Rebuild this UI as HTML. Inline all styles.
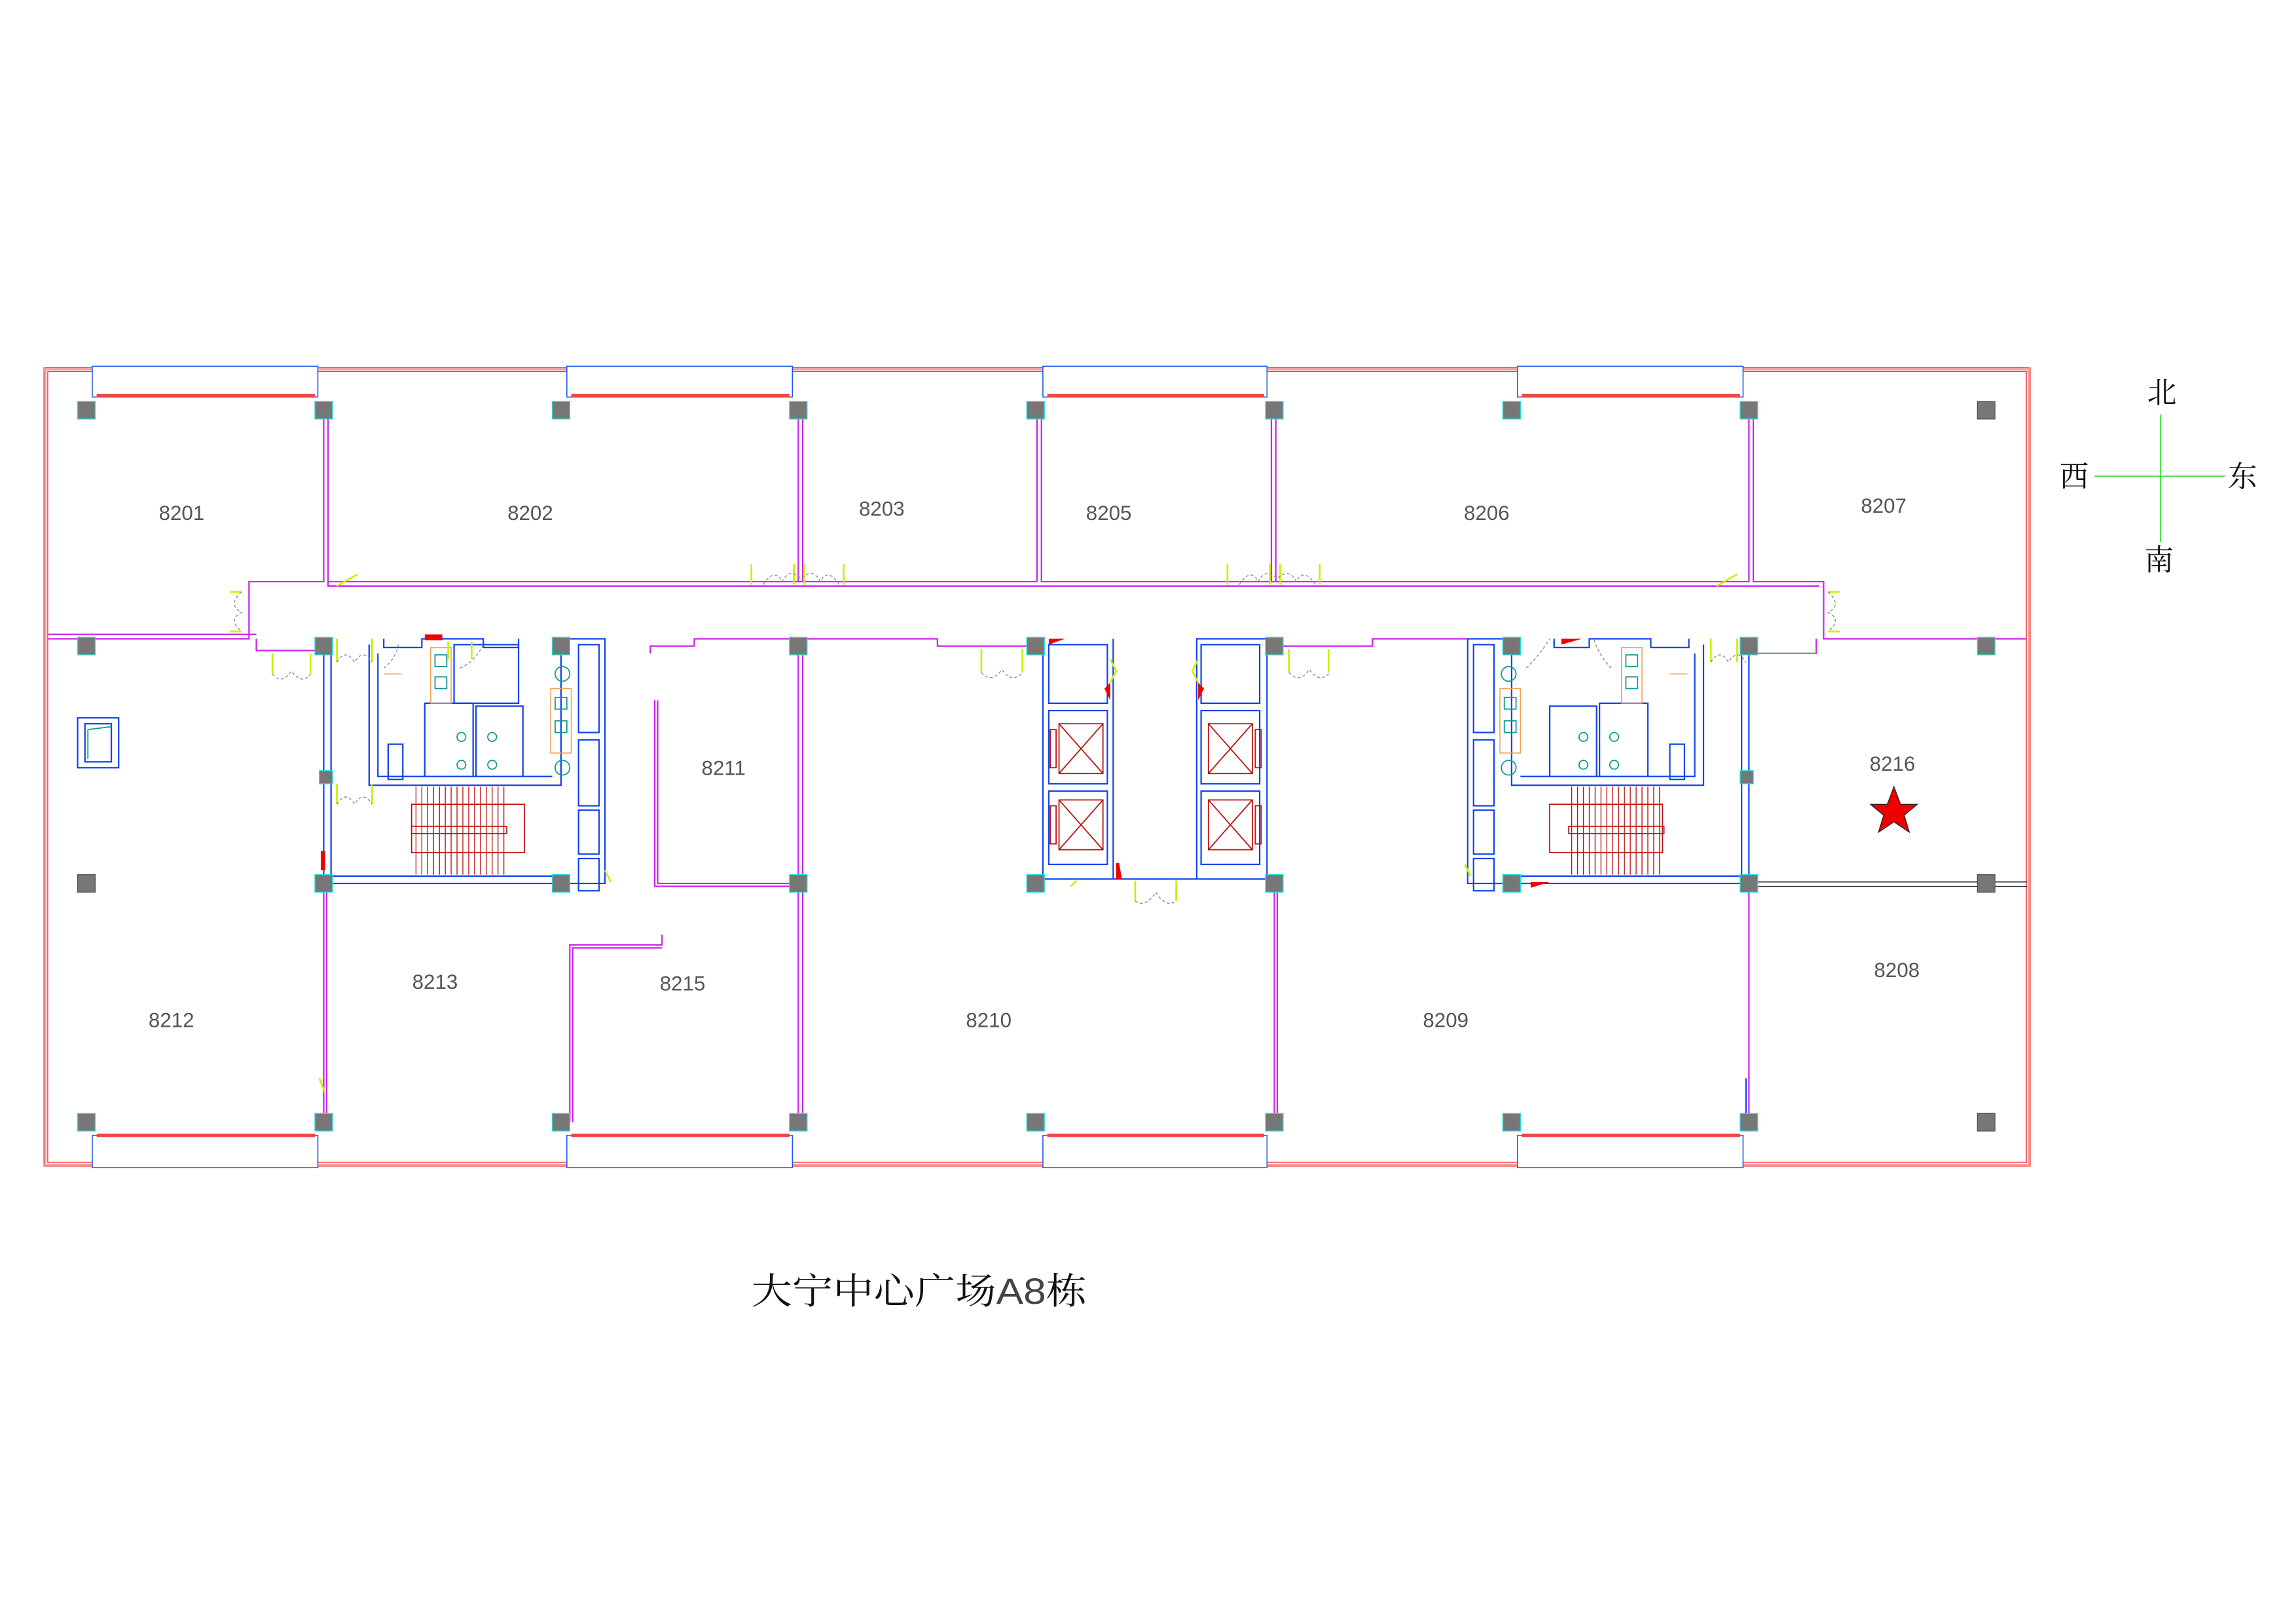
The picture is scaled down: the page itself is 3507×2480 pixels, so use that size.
<!DOCTYPE html>
<html><head><meta charset="utf-8"><style>
html,body{margin:0;padding:0;background:#fff;}
svg{display:block}
.t{font-family:"Liberation Sans",sans-serif;font-size:14px;fill:#555;}
</style></head><body>
<svg width="3507" height="2480" viewBox="0 0 1567.5 1108.5" preserveAspectRatio="none" xmlns="http://www.w3.org/2000/svg">
<rect width="1568" height="1109" fill="#fff"/>
<g fill="none" stroke-width="1.2" vector-effect="non-scaling-stroke">
<g stroke="#e33" stroke-width="0.6">
<rect x="30" y="251" width="1356" height="545"/>
<rect x="31.3" y="252.3" width="1353.4" height="542.4"/>
<rect x="32.6" y="253.6" width="1350.8" height="539.8"/>
</g>
<g stroke="#f5a0a0" stroke-width="1.5">
<line x1="30" y1="252" x2="1386" y2="252"/><line x1="30" y1="795" x2="1386" y2="795"/>
<line x1="31" y1="251" x2="31" y2="796"/><line x1="1385" y1="251" x2="1385" y2="796"/>
</g>
<g stroke="#2255ee" stroke-width="0.7" fill="#fff">
<rect x="63" y="250" width="154" height="21"/><rect x="387" y="250" width="154" height="21"/>
<rect x="712" y="250" width="153" height="21"/><rect x="1036" y="250" width="154" height="21"/>
<rect x="63" y="775" width="154" height="22"/><rect x="387" y="775" width="154" height="22"/>
<rect x="712" y="775" width="153" height="22"/><rect x="1036" y="775" width="154" height="22"/>
</g>
<g stroke="#ee4444" stroke-width="2.2">
<line x1="66" y1="270" x2="215" y2="270"/><line x1="390" y1="270" x2="539" y2="270"/>
<line x1="715" y1="270" x2="863" y2="270"/><line x1="1039" y1="270" x2="1188" y2="270"/>
<line x1="66" y1="775" x2="215" y2="775"/><line x1="390" y1="775" x2="539" y2="775"/>
<line x1="715" y1="775" x2="863" y2="775"/><line x1="1039" y1="775" x2="1188" y2="775"/>
</g>
<g stroke="#cc22ee" stroke-width="1">
<polyline points="221,285 221,397 170,397 170,436 33,436"/>
<polyline points="224,285 224,400 1242,400"/>
<line x1="224" y1="397" x2="545" y2="397"/>
<polyline points="545,285 545,397 708,397"/><polyline points="548,285 548,397"/>
<polyline points="708,285 708,397"/><polyline points="711,285 711,397 868,397"/>
<polyline points="868,285 868,397 1194,397 1194,285"/><polyline points="871,285 871,397"/>
<polyline points="1197,285 1197,397 1245,397 1245,436 1383,436"/>
<polyline points="33,433 175,433"/>
<polyline points="175,436 175,444 221,444"/>
<polyline points="444,446 444,441 474,441 474,436 640,436 640,441 707,441"/>
<polyline points="870,441 937,441 937,436 1002,436"/>
<polyline points="1198,446 1240,446 1240,436"/>
<line x1="545" y1="441" x2="545" y2="766"/><line x1="548" y1="441" x2="548" y2="766"/>
<polyline points="447,478 447,605 545,605"/><polyline points="449,478 449,603 545,603"/>
<line x1="221" y1="608" x2="221" y2="766"/><line x1="223" y1="608" x2="223" y2="766"/>
<line x1="870" y1="608" x2="870" y2="766"/><line x1="872" y1="608" x2="872" y2="766"/>
<polyline points="389,766 389,645 452,645 452,638"/><polyline points="391,766 391,647 452,647"/>
<line x1="1194" y1="608" x2="1194" y2="760"/>
</g>
<line x1="1198" y1="446" x2="1240" y2="446" stroke="#22dd22" stroke-width="1"/>
<g stroke="#222" stroke-width="0.6"><line x1="1200" y1="602" x2="1384" y2="602"/><line x1="1200" y1="605" x2="1384" y2="605"/></g>
<g stroke="#1144ee" stroke-width="1">
<polyline points="221,436 221,603 413,603 413,436 383,436"/>
<polyline points="226,446 226,598 383,598"/>
<polyline points="252,440 252,536 383,536 383,436"/>
<polyline points="258,446 258,530 377,530"/>
<polyline points="262,436 262,442 288,442 288,436 330,436 330,442 354,442 354,436"/>
<rect x="310" y="440" width="44" height="40"/>
<rect x="395" y="440" width="14" height="60"/><rect x="395" y="505" width="14" height="45"/>
<rect x="395" y="553" width="14" height="30"/><rect x="395" y="586" width="14" height="22"/>
<rect x="265" y="508" width="10" height="24"/>
<polyline points="290,530 290,480 323,480 323,530"/><polyline points="325,530 325,482 357,482 357,530"/>
<polyline points="712,436 712,600 865,600 865,436 817,436 817,600"/>
<polyline points="760,436 760,600"/>
<rect x="716" y="485" width="40" height="50"/><rect x="716" y="540" width="40" height="50"/>
<rect x="820" y="485" width="40" height="50"/><rect x="820" y="540" width="40" height="50"/>
<rect x="716" y="440" width="40" height="40"/><rect x="820" y="440" width="40" height="40"/>
<polyline points="1194,436 1194,603 1002,603 1002,436 1032,436"/>
<polyline points="1189,446 1189,598 1032,598"/>
<polyline points="1163,440 1163,536 1032,536 1032,436"/>
<polyline points="1157,446 1157,530 1038,530"/>
<polyline points="1153,436 1153,442 1127,442 1127,436 1085,436 1085,442 1061,442 1061,436"/>
<rect x="1006" y="440" width="14" height="60"/><rect x="1006" y="505" width="14" height="45"/>
<rect x="1006" y="553" width="14" height="30"/><rect x="1006" y="586" width="14" height="22"/>
<rect x="1140" y="508" width="10" height="24"/>
<polyline points="1058,530 1058,482 1090,482 1090,530"/><polyline points="1092,530 1092,480 1125,480 1125,530"/>
<rect x="53" y="490" width="28" height="34"/><rect x="58" y="494" width="18" height="26"/>
<line x1="1192" y1="736" x2="1192" y2="760"/>
</g>
<g stroke="#bb1111" stroke-width="0.8">
<rect x="723" y="494" width="30" height="34"/><line x1="723" y1="494" x2="753" y2="528"/><line x1="753" y1="494" x2="723" y2="528"/>
<rect x="723" y="546" width="30" height="34"/><line x1="723" y1="546" x2="753" y2="580"/><line x1="753" y1="546" x2="723" y2="580"/>
<rect x="825" y="494" width="30" height="34"/><line x1="825" y1="494" x2="855" y2="528"/><line x1="855" y1="494" x2="825" y2="528"/>
<rect x="825" y="546" width="30" height="34"/><line x1="825" y1="546" x2="855" y2="580"/><line x1="855" y1="546" x2="825" y2="580"/>
<rect x="717" y="498" width="4" height="26"/><rect x="717" y="550" width="4" height="26"/>
<rect x="857" y="498" width="4" height="26"/><rect x="857" y="550" width="4" height="26"/>
<rect x="281" y="549" width="77" height="33"/>
<rect x="281" y="564" width="65" height="5"/>
<rect x="1058" y="549" width="77" height="33"/>
<rect x="1071" y="564" width="65" height="5"/>
</g>
<g stroke="#bb1111" stroke-width="0.6">
<path d="M284 537V597M288 537V597M292 537V597M296 537V597M300 537V597M304 537V597M308 537V597M312 537V597M316 537V597M320 537V597M324 537V597M328 537V597M332 537V597M336 537V597M340 537V597M344 537V597"/>
<path d="M1073 537V597M1077 537V597M1081 537V597M1085 537V597M1089 537V597M1093 537V597M1097 537V597M1101 537V597M1105 537V597M1109 537V597M1113 537V597M1117 537V597M1121 537V597M1125 537V597M1129 537V597M1133 537V597"/>
</g>
<g stroke="#f5a050" stroke-width="0.7">
<rect x="294" y="442" width="14" height="38"/><rect x="1107" y="442" width="14" height="38"/>
<rect x="376" y="470" width="14" height="44"/><rect x="1024" y="470" width="14" height="44"/>
<line x1="262" y1="460" x2="274" y2="460"/><line x1="1140" y1="460" x2="1152" y2="460"/>
</g>
<g stroke="#119999" stroke-width="0.8">
<rect x="297" y="447" width="8" height="8"/><rect x="297" y="462" width="8" height="8"/>
<rect x="379" y="476" width="8" height="8"/><rect x="379" y="492" width="8" height="8"/>
<circle cx="315" cy="503" r="3"/><circle cx="336" cy="503" r="3"/><circle cx="315" cy="522" r="3"/><circle cx="336" cy="522" r="3"/>
<circle cx="384" cy="460" r="5"/><circle cx="384" cy="524" r="5"/>
<rect x="1110" y="447" width="8" height="8"/><rect x="1110" y="462" width="8" height="8"/>
<rect x="1027" y="476" width="8" height="8"/><rect x="1027" y="492" width="8" height="8"/>
<circle cx="1081" cy="503" r="3"/><circle cx="1102" cy="503" r="3"/><circle cx="1081" cy="522" r="3"/><circle cx="1102" cy="522" r="3"/>
<circle cx="1030" cy="460" r="5"/><circle cx="1030" cy="524" r="5"/>
<line x1="60" y1="498" x2="76" y2="496"/><line x1="60" y1="498" x2="60" y2="518"/>
</g>
<g stroke="#ccee00" stroke-width="1.2">
<path d="M157 404h8M157 431h8M230 400l14-8M513 385v14M576 385v14M542 385v14M549 385v14M838 385v14M901 385v14M867 385v14M874 385v14M1172 400l14-8M1248 404h8M1248 431h8M186 446v14M212 446v14M230 436v16M254 436v16M230 535v14M254 535v14M670 443v16M698 443v16M880 443v16M907 443v16M1168 436v16M1186 436v16M758 450l4 8 -4 8M818 450l-4 8 4 8M775 601v14M803 601v14M735 601l-4 4M1000 590l4 8M413 594l4 8M218 736l4 10M306 438v12M322 438v12"/>
</g>
<g stroke="#888" stroke-width="0.6" stroke-dasharray="2,1.5">
<path d="M165 404q-10 9 0 14q-10 5 0 13M521 399q8-12 13-2q5-10 13-2q8-8 13 2q5-10 13 2M846 399q8-12 13-2q5-10 13-2q8-8 13 2q5-10 13 2M1248 404q10 9 0 14q10 5 0 13M186 460q6 8 13-2q7 10 13 2M230 452q6-10 12 0q6-10 12 0M230 549q6-10 12 0q6-10 12 0M670 459q7 8 14-2q7 10 14 2M880 459q7 8 14-2q7 10 14 2M1168 452q6-10 12 0q6-10 12 0M775 615q7 5 14-6q7 11 14 6M1042 456q10-10 16-20M1100 456q-8-8 -12-20M262 456q8-6 10-16M314 456q10-4 16-16"/>
</g>
<g fill="#ee0000" stroke="none">
<polygon points="290,433 302,433 302,437 290,437"/>
<polygon points="716,436 727,436 716,440"/>
<polygon points="1066,436 1080,436 1066,440"/>
<polygon points="219,581 222,581 222,594 219,594"/>
<polygon points="762,589 764,589 766,600 762,600"/>
<polygon points="1045,602 1058,602 1045,606"/>
<polygon points="754,470 758,466 758,478"/><polygon points="822,470 818,466 818,478"/>
</g>
</g>
<g fill="#777" stroke="#22dddd" stroke-width="0.6">
<rect x="53" y="274" width="12" height="12"/><rect x="215" y="274" width="12" height="12"/><rect x="377" y="274" width="12" height="12"/><rect x="539" y="274" width="12" height="12"/><rect x="701" y="274" width="12" height="12"/><rect x="864" y="274" width="12" height="12"/><rect x="1026" y="274" width="12" height="12"/><rect x="1188" y="274" width="12" height="12"/><rect x="1350" y="274" width="12" height="12" stroke="#555"/>
<rect x="53" y="435" width="12" height="12"/><rect x="215" y="435" width="12" height="12"/><rect x="377" y="435" width="12" height="12"/><rect x="539" y="435" width="12" height="12"/><rect x="701" y="435" width="12" height="12"/><rect x="864" y="435" width="12" height="12"/><rect x="1026" y="435" width="12" height="12"/><rect x="1188" y="435" width="12" height="12"/><rect x="1350" y="435" width="12" height="12"/>
<rect x="53" y="597" width="12" height="12" stroke="#555"/><rect x="215" y="597" width="12" height="12"/><rect x="377" y="597" width="12" height="12"/><rect x="539" y="597" width="12" height="12"/><rect x="701" y="597" width="12" height="12"/><rect x="864" y="597" width="12" height="12"/><rect x="1026" y="597" width="12" height="12"/><rect x="1188" y="597" width="12" height="12"/><rect x="1350" y="597" width="12" height="12" stroke="#555"/>
<rect x="53" y="760" width="12" height="12"/><rect x="215" y="760" width="12" height="12"/><rect x="377" y="760" width="12" height="12"/><rect x="539" y="760" width="12" height="12"/><rect x="701" y="760" width="12" height="12"/><rect x="864" y="760" width="12" height="12"/><rect x="1026" y="760" width="12" height="12"/><rect x="1188" y="760" width="12" height="12"/><rect x="1350" y="760" width="12" height="12" stroke="#555"/>
<rect x="218" y="526" width="9" height="9"/><rect x="1188" y="526" width="9" height="9"/>
</g>
<g class="t" text-anchor="middle">
<text x="124" y="355">8201</text><text x="362" y="355">8202</text><text x="602" y="352">8203</text>
<text x="757" y="355">8205</text><text x="1015" y="355">8206</text><text x="1286" y="350">8207</text>
<text x="494" y="529">8211</text><text x="1292" y="526">8216</text>
<text x="297" y="675">8213</text><text x="466" y="676">8215</text><text x="117" y="701">8212</text>
<text x="675" y="701">8210</text><text x="987" y="701">8209</text><text x="1295" y="667">8208</text>
</g>
<polygon points="1293,537 1297.5,549 1309,549 1300,556.5 1303.5,568 1293,561 1282.5,568 1286,556.5 1277,549 1288.5,549" fill="#ee0000" stroke="#222" stroke-width="0.6"/>
<g stroke="#22dd22" stroke-width="0.7"><line x1="1430" y1="325" x2="1519" y2="325"/><line x1="1475" y1="283" x2="1475" y2="370"/></g>
<g font-family="'Liberation Serif','Noto Serif CJK SC',serif" font-size="20" fill="#111" text-anchor="middle">
<text x="1476" y="275">北</text><text x="1416" y="332">西</text><text x="1531" y="332">东</text><text x="1474" y="389">南</text>
</g>
<text x="513" y="890" font-family="'Liberation Sans','Noto Serif CJK SC',serif" font-size="25" fill="#111" textLength="229" lengthAdjust="spacingAndGlyphs">大宁中心广场<tspan font-family="'Liberation Sans',sans-serif" fill="#444">A8</tspan>栋</text>
</svg>
</body></html>
